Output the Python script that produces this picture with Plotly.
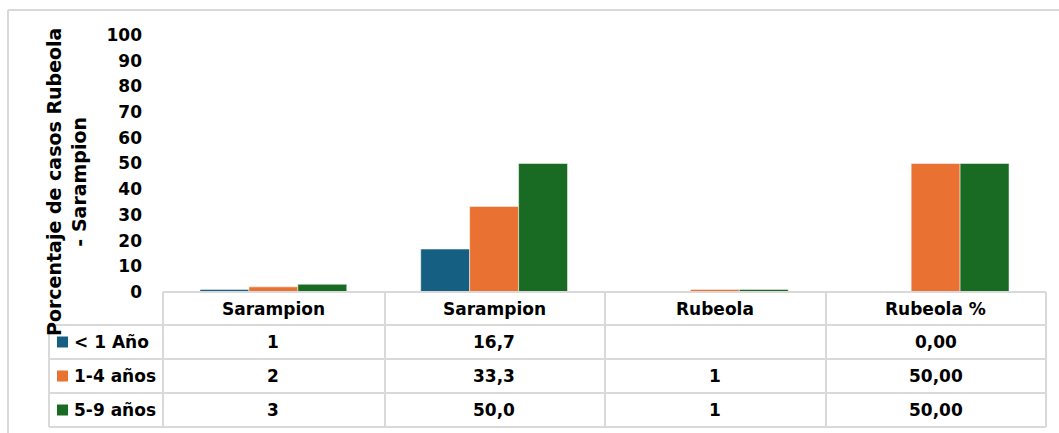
import plotly.graph_objects as go

categories = ["Sarampion", "Sarampion", "Rubeola", "Rubeola %"]
series_names = ["< 1 Año", "1-4 años", "5-9 años"]
values_lt1 = [1, 16.7, None, 0]
values_1_4 = [2, 33.3, 1, 50]
values_5_9 = [3, 50, 1, 50]
table_lt1 = ["1", "16,7", "", "0,00"]
table_1_4 = ["2", "33,3", "1", "50,00"]
table_5_9 = ["3", "50,0", "1", "50,00"]
colors = ["#156082", "#E97132", "#196B24"]
y_ticks = list(range(0, 101, 10))

W, H = 1059, 433
L, R, T, B = 163, 1046, 35, 292  # plot area pixels

def px(x):
    return (x - L) / (R - L)

def py(y):
    return (B - y) / (B - T)

FONT = "DejaVu Sans"
TXT = dict(family=FONT, size=17, color="#000", weight="bold")
fig = go.Figure()
xs = list(range(len(categories)))
for name, vals, col in zip(series_names, [values_lt1, values_1_4, values_5_9], colors):
    fig.add_trace(go.Bar(x=xs, y=vals, name=name, marker=dict(color=col, line=dict(color="white", width=0.5)),
                         showlegend=False))

shapes = []
annotations = []
grid = "#D9D9D9"
# outer chart border
shapes.append(dict(type="line", xref="paper", yref="paper", x0=px(8), x1=px(1059), y0=py(10), y1=py(10),
                   line=dict(color=grid, width=2)))
shapes.append(dict(type="line", xref="paper", yref="paper", x0=px(8), x1=px(8), y0=py(10), y1=py(433),
                   line=dict(color=grid, width=2)))
# table lines
row_lines = [292, 325, 359, 393, 427]
col_lines = [163, 385, 605, 826, 1046]
for i, yy in enumerate(row_lines):
    x0 = 163 if i == 0 else 49
    shapes.append(dict(type="line", xref="paper", yref="paper", x0=px(x0), x1=px(1046), y0=py(yy), y1=py(yy),
                       line=dict(color=grid, width=2)))
for xx in col_lines:
    shapes.append(dict(type="line", xref="paper", yref="paper", x0=px(xx), x1=px(xx), y0=py(292), y1=py(427),
                       line=dict(color=grid, width=2)))
shapes.append(dict(type="line", xref="paper", yref="paper", x0=px(49), x1=px(49), y0=py(325), y1=py(427),
                   line=dict(color=grid, width=2)))

row_centers = [342, 376, 410]
# header
for i, c in enumerate(categories):
    annotations.append(dict(x=i, y=py(308.5), xref="x", yref="paper", text=c, showarrow=False,
                            yanchor="middle", font=TXT))
for r, (name, tvals, col) in enumerate(zip(series_names, [table_lt1, table_1_4, table_5_9], colors)):
    yc = row_centers[r]
    for i, t in enumerate(tvals):
        if t:
            annotations.append(dict(x=i, y=py(yc), xref="x", yref="paper", text=t, showarrow=False,
                                    yanchor="middle", font=TXT))
    shapes.append(dict(type="rect", xref="paper", yref="paper", x0=px(57), x1=px(68), y0=py(yc - 5.5), y1=py(yc + 5.5),
                       fillcolor=col, line=dict(width=0)))
    annotations.append(dict(x=px(72), y=py(yc), xref="paper", yref="paper", text=name, showarrow=False,
                            xanchor="left", yanchor="middle", font=TXT))

# y-axis title
annotations.append(dict(x=px(66), y=py(182), xref="paper", yref="paper",
                        text="Porcentaje de casos Rubeola<br>- Sarampion", textangle=-90, showarrow=False,
                        xanchor="center", yanchor="middle",
                        font=dict(family=FONT, size=19, color="#000", weight="bold")))

fig.update_layout(
    width=W, height=H,
    margin=dict(l=L, r=W - R, t=T, b=H - B, pad=0),
    paper_bgcolor="white", plot_bgcolor="white",
    barmode="group", bargap=0.335, bargroupgap=0,
    xaxis=dict(range=[-0.5, 3.5], showticklabels=False, showgrid=False, zeroline=False, showline=False, ticks=""),
    yaxis=dict(range=[0, 100], tickvals=y_ticks, showgrid=False, zeroline=False, showline=False,
               ticks="", ticklabelstandoff=20,
               tickfont=TXT),
    shapes=shapes, annotations=annotations,
)
fig.write_html("out.html")
